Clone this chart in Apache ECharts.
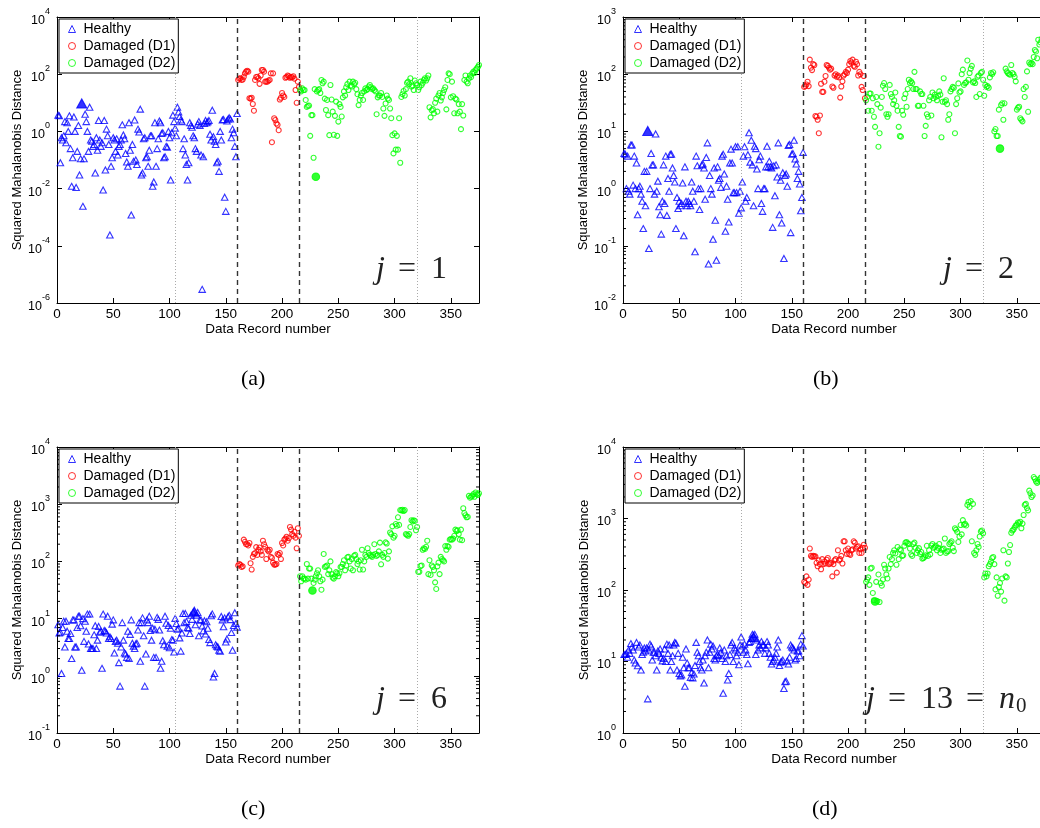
<!DOCTYPE html>
<html>
<head>
<meta charset="utf-8">
<script src="https://cdn.jsdelivr.net/npm/echarts@6/dist/echarts.min.js"></script>
<style>
  html, body { margin: 0; padding: 0; background: #fff; }
  #chart { width: 1040px; height: 828px; }
</style>
</head>
<body>
<div id="chart"></div>
<script>
// Record numbering: healthy records 1-160, damage state D1 161-215, damage state D2 216-375
const recordMax = 375;
const healthyStart = 1;
const d1Start = 161;
const d2Start = 216;
const xTickStep = 50;
const classBoundaries = [160.5, 215.5];   // dashed separators between states
const auxBoundaries = [105.5, 320.5];     // dotted reference lines

// ---- j = 1 ----
const healthyA = [
  3.7, 3.5, 0.08, 0.6, 0.5, 0.7, 2.2, 0.4, 2.0, 1.0,
  3.5, 0.25, 0.012, 0.12, 3.2, 1.0, 0.011, 0.2, 1.6, 0.03,
  0.11, 9.5, 0.0024, 0.11, 4.0, 2.2, 1.0, 0.2, 7.0, 0.5,
  0.45, 0.3, 0.35, 0.035, 0.6, 0.22, 2.4, 0.5, 0.3, 0.4,
  0.009, 2.4, 0.045, 1.2, 0.7, 0.35, 0.00024, 0.06, 0.12, 0.6,
  0.5, 0.2, 0.55, 0.15, 0.3, 0.35, 0.5, 1.7, 0.75, 0.55,
  0.17, 0.085, 0.06, 2.0, 0.22, 0.0012, 0.35, 0.09, 2.5, 0.1,
  0.07, 1.2, 0.95, 6.0, 0.03, 0.035, 0.55, 0.6, 0.12, 0.13,
  0.06, 0.22, 0.7, 0.7, 0.012, 0.017, 2.0, 0.06, 0.25, 0.55,
  2.3, 2.0, 0.85, 0.9, 0.12, 0.13, 0.3, 0.28, 1.0, 0.6,
  0.02, 0.9, 3.7, 2.2, 1.3, 0.7, 7.0, 4.8, 3.3, 2.5,
  2.2, 0.25, 0.55, 0.15, 0.07, 0.02, 0.08, 2.0, 1.6, 1.4,
  0.7, 0.6, 0.25, 0.2, 1.8, 2.2, 1.6, 0.15, 3e-6, 0.13,
  1.9, 2.4, 2.0, 2.2, 2.4, 0.8, 0.5, 5.5, 0.65, 0.45,
  0.35, 0.08, 0.09, 0.04, 1.0, 0.5, 2.5, 2.6, 0.005, 0.0016,
  2.3, 2.7, 3.0, 2.7, 0.6, 1.2, 0.9, 0.3, 0.13, 4.2
];
const d1A = [
  63, 70, 72, 63, 65, 81, 107, 123, 132, 123,
  14.5, 14, 15, 9.1, 5.3, 63, 80, 81, 72, 46,
  90, 140, 140, 123, 55, 55, 55, 60, 63, 107,
  0.42, 107, 2.9, 2.5, 1.9, 1.7, 1.1, 13, 15, 22,
  18, 16, 75, 80, 90, 85, 75, 80, 78, 85,
  70, 28, 10, 55, 36
];
const d2A = [
  28, 25, 32, 28, 28, 12.6, 7.2, 7.8, 8, 0.7,
  3.7, 3.7, 0.12, 30, 0.026, 25, 28, 30, 22, 63,
  48, 55, 14, 5.6, 12.6, 3.7, 0.74, 42, 13, 4.9,
  0.76, 3.5, 11, 0.7, 2.2, 9, 7.2, 3.3, 15.5, 25,
  18, 35, 45, 28, 55, 40, 37, 55, 45, 50,
  30, 20, 8.3, 12.6, 18, 22, 12.6, 25, 32, 28,
  30, 37, 42, 35, 30, 32, 28, 25, 4, 15.5,
  18, 18, 22, 16, 6.3, 3.5, 9.5, 18, 14, 12.6,
  6.3, 2.9, 0.74, 0.17, 0.85, 0.23, 0.7, 0.23, 2.9, 0.08,
  16, 20, 26, 18, 30, 50, 55, 45, 72, 37,
  40, 28, 60, 48, 42, 28, 35, 55, 42, 50,
  63, 72, 60, 72, 90, 7, 3.1, 5.5, 6, 4.3,
  10, 14, 4.9, 18, 22, 12, 15.5, 22, 28, 35,
  5.9, 63, 107, 100, 15.5, 55, 17, 4.3, 14, 13,
  4.3, 9, 4.9, 1.2, 9, 3.6, 63, 90, 55, 48,
  70, 90, 80, 107, 123, 110, 140, 160, 180, 210
];

// ---- j = 2 ----
const healthyB = [
  4.1, 4.0, 1.0, 3.7, 0.9, 0.8, 5.8, 5.8, 1.15, 3.7,
  1.0, 2.8, 0.35, 1.0, 1.1, 0.8, 0.6, 0.2, 2.0, 0.5,
  2.0, 10.2, 0.09, 1.0, 4.1, 2.6, 2.6, 0.8, 9.0, 0.9,
  1.35, 0.48, 0.35, 0.16, 0.6, 2.6, 0.55, 3.7, 0.34, 1.5,
  0.9, 4.0, 4.0, 2.3, 1.7, 1.3, 0.2, 0.7, 0.45, 0.6,
  0.5, 0.55, 1.25, 0.15, 2.4, 0.6, 0.5, 0.6, 0.55, 0.5,
  1.3, 0.9, 0.6, 0.079, 3.7, 2.5, 1.0, 0.43, 1.0, 2.6,
  2.7, 2.3, 0.65, 3.5, 6.3, 0.048, 1.7, 1.0, 0.8, 0.13,
  2.3, 0.28, 0.056, 2.4, 1.4, 1.5, 1.05, 3.7, 4.0, 1.8,
  0.18, 1.1, 0.65, 0.26, 2.8, 4.9, 2.8, 0.85, 0.85, 5.4,
  0.85, 5.4, 0.37, 0.9, 0.46, 1.3, 3.7, 5.4, 0.6, 0.7,
  3.9, 9.5, 2.9, 7.0, 2.6, 0.5, 5.5, 5.0, 2.2, 1.0,
  3.2, 3.7, 0.55, 0.4, 1.0, 1.0, 2.4, 5.5, 2.4, 3.0,
  2.4, 2.3, 0.21, 2.5, 0.75, 2.6, 1.6, 6.3, 0.35, 1.4,
  0.25, 1.9, 0.06, 1.7, 1.8, 1.1, 5.7, 5.9, 0.17, 4.0,
  4.1, 7.0, 3.3, 2.7, 1.5, 2.0, 1.2, 0.41, 0.7, 4.3
];
const d1B = [
  60, 62, 66, 74, 62, 180, 130, 118, 150, 145,
  18.6, 18, 16, 9.3, 19, 68, 49, 49, 74, 93,
  145, 140, 130, 120, 125, 61, 58, 95, 100, 90,
  95, 88, 39, 61, 75, 95, 100, 110, 105, 120,
  150, 170, 160, 180, 140, 135, 165, 150, 95, 110,
  100, 60, 53, 93, 38
];
const d2B = [
  35, 40, 23, 46, 46, 23, 38, 18, 12, 40,
  30, 5.4, 9.3, 26, 40, 63, 70, 55, 20, 18,
  20, 65, 45, 40, 30, 35, 48, 28, 23, 12,
  8.3, 8.1, 23, 19.5, 38, 45, 27, 55, 80, 70,
  75, 70, 55, 110, 55, 55, 28, 28, 50, 45,
  45, 28, 8.3, 12.5, 20, 18, 35, 40, 19, 48,
  38, 44, 40, 35, 42, 50, 44, 7.9, 33, 85,
  33, 35, 30, 16, 20, 50, 55, 60, 58, 9.3,
  30, 38, 69, 48, 50, 100, 120, 65, 70, 72,
  174, 80, 105, 125, 140, 72, 75, 70, 40, 90,
  95, 45, 105, 110, 80, 42, 65, 60, 62, 58,
  88, 105, 100, 108, 10, 11, 8.3, 8.3, 24, 5.0,
  29, 31, 16, 31, 125, 112, 105, 100, 98, 145,
  105, 100, 90, 75, 24, 26, 27, 17, 16, 15,
  55, 40, 60, 112, 22, 160, 150, 158, 150, 200,
  265, 250, 190, 400, 330, 360, 420, 380, 450, 500
];

// ---- j = 6 ----
const healthyC = [
  7.8, 5.6, 5.8, 1.1, 7, 9, 3.2, 9, 6, 4.5,
  4.5, 5.5, 2.0, 9.5, 9.5, 3.2, 3.2, 7, 11, 11,
  7.5, 1.25, 10, 4.0, 9, 6, 12, 3.6, 12, 3.0,
  3.0, 3.0, 5.2, 7.5, 3.0, 4.2, 7.3, 5.8, 6, 1.35,
  12, 6.2, 6, 5.6, 11, 4.5, 4.8, 4.5, 8, 9.5,
  2.5, 4.0, 4.2, 3.7, 1.7, 0.66, 3.2, 8.5, 4.2, 2.5,
  2.4, 2.1, 6, 2.0, 5.3, 9.5, 3.7, 3.3, 3.0, 3.6,
  3.7, 6.3, 8.5, 1.8, 8.5, 10.3, 5.0, 0.66, 2.4, 9.5,
  8.5, 11, 6.2, 4.2, 6.8, 2.1, 6.5, 2.1, 10.5, 9.7,
  6.3, 1.35, 1.8, 4.1, 3.5, 11, 8.3, 3.3, 7.6, 3.1,
  6.8, 4.3, 4.2, 2.6, 10.1, 8.2, 6.5, 6.8, 4.6, 2.7,
  5.6, 12.3, 8.5, 12.3, 8.9, 7.0, 6.8, 5.5, 11.4, 9.7,
  13, 13.2, 7.8, 11.5, 12.8, 5.0, 9.5, 9.5, 7.4, 6.1,
  9.2, 5.4, 8.8, 6.8, 4.3, 3.8, 11.2, 12.1, 0.95, 1.1,
  3.5, 3.3, 3.2, 2.8, 2.7, 10.9, 9.5, 7.2, 10.3, 3.9,
  4.4, 10.8, 11.4, 9.6, 5.7, 2.8, 7.6, 12.7, 8.2, 7.1
];
const d1C = [
  85, 90, 87, 80, 82, 240, 220, 200, 200, 190,
  210, 93, 72, 120, 135, 140, 178, 130, 160, 175,
  150, 130, 230, 200, 180, 110, 160, 150, 160, 120,
  115, 95, 88, 88, 90, 135, 130, 140, 110, 210,
  190, 240, 250, 270, 230, 255, 400, 360, 300, 280,
  330, 260, 170, 380, 280
];
const d2C = [
  55, 45, 55, 50, 50, 48, 90, 50, 75, 75,
  50, 31, 42, 48, 55, 62, 70, 55, 45, 32,
  48, 135, 80, 82, 85, 60, 70, 100, 60, 52,
  50, 55, 65, 62, 55, 62, 80, 80, 90, 105,
  70, 85, 118, 120, 100, 75, 110, 70, 125, 130,
  110, 90, 100, 72, 105, 160, 72, 100, 130, 120,
  170, 140, 130, 125, 120, 130, 200, 135, 125, 130,
  150, 213, 89, 130, 120, 140, 215, 205, 112, 150,
  320, 300, 410, 260, 280, 450, 420, 590, 435, 790,
  780, 800, 760, 790, 300, 290, 280, 300, 400, 525,
  500, 525, 510, 350, 400, 66, 66, 83, 85, 160,
  170, 165, 180, 230, 60, 105, 58, 85, 80, 70,
  43, 33, 82, 95, 60, 120, 110, 105, 100, 185,
  160, 185, 180, 240, 245, 240, 250, 280, 360, 340,
  350, 300, 240, 360, 235, 850, 700, 640, 590, 600,
  1400, 1300, 1350, 1400, 1500, 1350, 1600, 1500, 1450, 1550
];

// ---- j = 13 = n0 ----
const healthyD = [
  12.5, 12.5, 13, 11.5, 14.5, 13, 17.8, 16, 14.5, 10.5,
  9.5, 18.5, 8.7, 16, 17, 7.6, 12.5, 13.5, 15.5, 14,
  15.5, 3.0, 14.5, 17.5, 16.5, 10.5, 13.5, 13.5, 12, 7.6,
  14, 13, 15, 11.5, 10.2, 11, 15, 10, 17.5, 13,
  17, 7.6, 10, 12, 17, 18.5, 18, 7.6, 13, 6.8,
  6.3, 6.5, 11.5, 8.2, 4.5, 15, 9.5, 8.2, 8.2, 6.0,
  7.0, 5.9, 6.7, 8.8, 18.5, 13.5, 12, 10, 8.2, 7.6,
  10.5, 5.0, 12, 13.5, 20, 8.2, 13.5, 17.5, 15, 16.5,
  11, 10.5, 12, 12.5, 12, 15.5, 13.5, 11, 3.6, 14.5,
  10, 12, 5.5, 6.8, 12.5, 17, 18.5, 10, 15.5, 14.5,
  12, 13.5, 9, 17, 22, 16.5, 13.5, 17.5, 14.5, 12.5,
  9.3, 18.5, 19, 21, 24, 22, 24, 12.5, 20, 14.5,
  17, 15.5, 19, 17, 17, 13, 15.5, 19, 17, 13,
  11.5, 9.2, 10, 10.5, 11.5, 13, 16, 20, 8.8, 9.8,
  10, 10.5, 4.2, 5.2, 5.3, 10.2, 9.2, 11.5, 17, 16,
  15.5, 14.5, 10.5, 11, 14, 14, 12, 17.5, 23, 16.5
];
const d1D = [
  130, 125, 155, 118, 140, 380, 300, 290, 300, 295,
  295, 240, 215, 260, 230, 195, 270, 230, 250, 235,
  265, 280, 230, 235, 240, 155, 230, 260, 270, 175,
  360, 260, 270, 300, 235, 480, 480, 360, 320, 380,
  320, 310, 360, 370, 480, 460, 380, 400, 410, 330,
  370, 330, 390, 430, 390
];
const d2D = [
  130, 140, 150, 118, 200, 205, 91, 72, 69, 130,
  70, 165, 68, 125, 115, 140, 225, 200, 165, 145,
  200, 290, 230, 270, 330, 360, 325, 225, 400, 270,
  370, 360, 300, 305, 415, 460, 470, 450, 440, 380,
  315, 300, 440, 460, 390, 330, 360, 385, 320, 340,
  275, 280, 290, 305, 415, 300, 360, 315, 420, 440,
  390, 400, 415, 360, 390, 440, 330, 365, 375, 380,
  525, 330, 345, 350, 440, 460, 480, 390, 350, 730,
  700, 650, 470, 560, 810, 600, 950, 820, 840, 800,
  1550, 1700, 1450, 1750, 480, 1600, 330, 310, 360, 440,
  400, 560, 660, 680, 620, 150, 170, 155, 170, 215,
  230, 250, 280, 290, 230, 102, 150, 83, 110, 125,
  95, 145, 360, 71, 155, 150, 235, 340, 425, 630,
  680, 700, 750, 800, 820, 880, 860, 900, 730, 850,
  1120, 1550, 1600, 1400, 1300, 2450, 2250, 2000, 2100, 3800,
  3600, 3300, 3150, 3300, 3500, 3700, 3400, 3900, 3600, 3800
];

// Highlighted (filled) records per panel
const refHealthyRecord = [22, 22, 122, 116];
const refD2Record = [230, 335, 227, 224];

// Axis limits per panel
const yLimits = [[1e-6, 1e4], [1e-2, 1e3], [1e-1, 1e4], [1e0, 1e4]];
const panelLabels = ['1', '2', '6', '13'];
const panelCaptions = ['(a)', '(b)', '(c)', '(d)'];
const legendNames = ['Healthy', 'Damaged (D1)', 'Damaged (D2)'];

const datasets = [
  [healthyA, d1A, d2A],
  [healthyB, d1B, d2B],
  [healthyC, d1C, d2C],
  [healthyD, d1D, d2D]
];

// ---------- layout and styling ----------
const SANS = '"Liberation Sans", Arial, Helvetica, sans-serif';
const SERIF = '"Liberation Serif", "DejaVu Serif", serif';
const frames = [
  { left: 57, top: 17 }, { left: 623, top: 17 },
  { left: 57, top: 447 }, { left: 623, top: 447 }
];
const frameW = 422, frameH = 286;
const BLUE = '#0000ff', RED = '#ff0000', GREEN = '#00ff00';
const HOLLOW = 'rgba(0,0,0,0)';

function powLabel(v) {
  const e = Math.round(Math.log10(v));
  return '{b|10}{s|' + e + '}';
}

const minorMultipliers = [2, 3, 4, 5, 6, 7, 8, 9];

const option = {
  animation: false,
  backgroundColor: '#ffffff',
  grid: [], xAxis: [], yAxis: [], series: [], legend: [], graphic: []
};

datasets.forEach(function (set, k) {
  const f = frames[k];
  const yMin = yLimits[k][0], yMax = yLimits[k][1];
  const span = Math.round(Math.log10(yMax) - Math.log10(yMin));

  option.grid.push({
    left: f.left, top: f.top, width: frameW, height: frameH,
    containLabel: false, outerBoundsMode: 'none', show: false
  });

  const axisLine = { show: true, onZero: false, lineStyle: { color: '#000', width: 1 } };
  const tick = { show: true, inside: true, length: 5, lineStyle: { color: '#000', width: 1 } };

  // bottom / top x axes
  option.xAxis.push({
    gridIndex: k, type: 'value', min: 0, max: recordMax, interval: xTickStep,
    axisLine: axisLine, axisTick: tick, splitLine: { show: false },
    axisLabel: { margin: 4, fontSize: 13.5, color: '#000', fontFamily: SANS, showMaxLabel: false },
    name: 'Data Record number', nameLocation: 'middle', nameGap: 16,
    nameTextStyle: { fontSize: 13.5, color: '#000', fontFamily: SANS }
  });
  option.xAxis.push({
    gridIndex: k, type: 'value', position: 'top', min: 0, max: recordMax, interval: xTickStep,
    axisLine: axisLine, axisTick: tick, splitLine: { show: false }, axisLabel: { show: false }
  });

  // left / right log y axes
  const yCommon = {
    gridIndex: k, type: 'log', logBase: 10, min: yMin, max: yMax,
    axisLine: axisLine, axisTick: tick, splitLine: { show: false }, minorTick: { show: false }
  };
  if (span > 6) { yCommon.interval = 2; }
  option.yAxis.push(Object.assign({}, yCommon, {
    axisLabel: {
      margin: 7, color: '#000', formatter: powLabel,
      rich: {
        b: { fontSize: 12.5, fontFamily: SANS, color: '#000', lineHeight: 20, verticalAlign: 'bottom' },
        s: { fontSize: 9, fontFamily: SANS, color: '#000', lineHeight: 10, verticalAlign: 'top' }
      }
    },
    name: 'Squared Mahalanobis Distance', nameLocation: 'middle', nameGap: 32, nameRotate: 90,
    nameTextStyle: { fontSize: 13, color: '#000', fontFamily: SANS }
  }));
  option.yAxis.push(Object.assign({}, yCommon, { position: 'right', axisLabel: { show: false } }));

  const xi = 2 * k, yi = 2 * k;
  const healthy = set[0], d1 = set[1], d2 = set[2];

  option.series.push({
    name: 'Healthy', type: 'scatter', xAxisIndex: xi, yAxisIndex: yi,
    symbol: 'triangle', symbolSize: [6.5, 6],
    itemStyle: { color: HOLLOW, borderColor: BLUE, borderWidth: 1.1 },
    data: healthy.map(function (v, i) {
      const rec = healthyStart + i;
      if (rec === refHealthyRecord[k]) {
        return { value: [rec, v], symbolSize: [10, 9], itemStyle: { color: BLUE } };
      }
      return [rec, v];
    }),
    markLine: {
      silent: true, symbol: 'none', label: { show: false }, animation: false,
      data: classBoundaries.map(function (x) {
        return { xAxis: x, lineStyle: { color: '#333', width: 1.4, type: [5, 4] } };
      }).concat(auxBoundaries.map(function (x) {
        return { xAxis: x, lineStyle: { color: '#aaa', width: 1, type: [1, 2] } };
      }))
    },
    z: 2
  });
  option.series.push({
    name: 'Damaged (D1)', type: 'scatter', xAxisIndex: xi, yAxisIndex: yi,
    symbol: 'circle', symbolSize: 5,
    itemStyle: { color: HOLLOW, borderColor: RED, borderWidth: 1.1 },
    data: d1.map(function (v, i) { return [d1Start + i, v]; }),
    z: 3
  });
  option.series.push({
    name: 'Damaged (D2)', type: 'scatter', xAxisIndex: xi, yAxisIndex: yi,
    symbol: 'circle', symbolSize: 5,
    itemStyle: { color: HOLLOW, borderColor: GREEN, borderWidth: 1.1 },
    data: d2.map(function (v, i) {
      const rec = d2Start + i;
      if (rec === refD2Record[k]) {
        return { value: [rec, v], symbolSize: 7.5, itemStyle: { color: GREEN } };
      }
      return [rec, v];
    }),
    z: 4
  });

  // log minor ticks on the left/right frame edges
  if (span <= 6) {
    const minorVals = [];
    for (let e = Math.round(Math.log10(yMin)); e < Math.round(Math.log10(yMax)); e++) {
      minorMultipliers.forEach(function (m) { minorVals.push([0, m * Math.pow(10, e)]); });
    }
    option.series.push({
      type: 'custom', xAxisIndex: xi, yAxisIndex: yi, silent: true, clip: false, z: 5,
      data: minorVals,
      renderItem: function (params, api) {
        const v = api.value(1);
        const a = api.coord([0, v]);
        const b = api.coord([recordMax, v]);
        return {
          type: 'group',
          children: [
            { type: 'line', shape: { x1: a[0], y1: a[1], x2: a[0] + 3, y2: a[1] }, style: { stroke: '#000', lineWidth: 1 } },
            { type: 'line', shape: { x1: b[0] - 3, y1: b[1], x2: b[0], y2: b[1] }, style: { stroke: '#000', lineWidth: 1 } }
          ]
        };
      }
    });
  }

  option.legend.push({
    left: f.left + 2, top: f.top + 2, orient: 'vertical',
    itemGap: 3, itemWidth: 7, itemHeight: 7,
    padding: [3, 3, 3, 9],
    borderColor: '#000', borderWidth: 1, borderRadius: 0, backgroundColor: '#fff',
    selectedMode: false, z: 10,
    textStyle: { fontSize: 14, color: '#000', fontFamily: SANS, padding: [0, 0, 0, 3] },
    data: [
      { name: legendNames[0], icon: 'triangle', itemStyle: { color: HOLLOW, borderColor: BLUE, borderWidth: 1 } },
      { name: legendNames[1], icon: 'circle', itemStyle: { color: HOLLOW, borderColor: RED, borderWidth: 1 } },
      { name: legendNames[2], icon: 'circle', itemStyle: { color: HOLLOW, borderColor: GREEN, borderWidth: 1 } }
    ]
  });
});

// j annotations
const jLeft = [376, 943, 376, 866];
const jTop = [254, 254, 684, 684];
const mathRich = {
  i: { fontFamily: SERIF, fontStyle: 'italic', fontSize: 32, color: '#222' },
  o: { fontFamily: SERIF, fontSize: 32, color: '#222', padding: [0, 15, 0, 13] },
  n: { fontFamily: SERIF, fontSize: 32, color: '#222' },
  sub: { fontFamily: SERIF, fontSize: 21, color: '#222', padding: [12, 0, 0, 1] }
};
panelLabels.forEach(function (lbl, k) {
  let txt = '{i|j}{o|=}{n|' + lbl + '}';
  if (k === 3) { txt += '{o|=}{i|n}{sub|0}'; }
  option.graphic.push({
    type: 'text', left: jLeft[k], top: jTop[k], z: 20,
    style: { text: txt, rich: mathRich, fill: '#222' }
  });
});

// subplot captions
const capLeft = [241, 813, 241, 812];
const capTop = [368, 368, 798, 798];
panelCaptions.forEach(function (c, k) {
  option.graphic.push({
    type: 'text', left: capLeft[k], top: capTop[k], z: 20,
    style: { text: c, font: '22px ' + SERIF, fill: '#000' }
  });
});

const chart = echarts.init(document.getElementById('chart'), null, { renderer: 'canvas' });
chart.setOption(option);
</script>
</body>
</html>
